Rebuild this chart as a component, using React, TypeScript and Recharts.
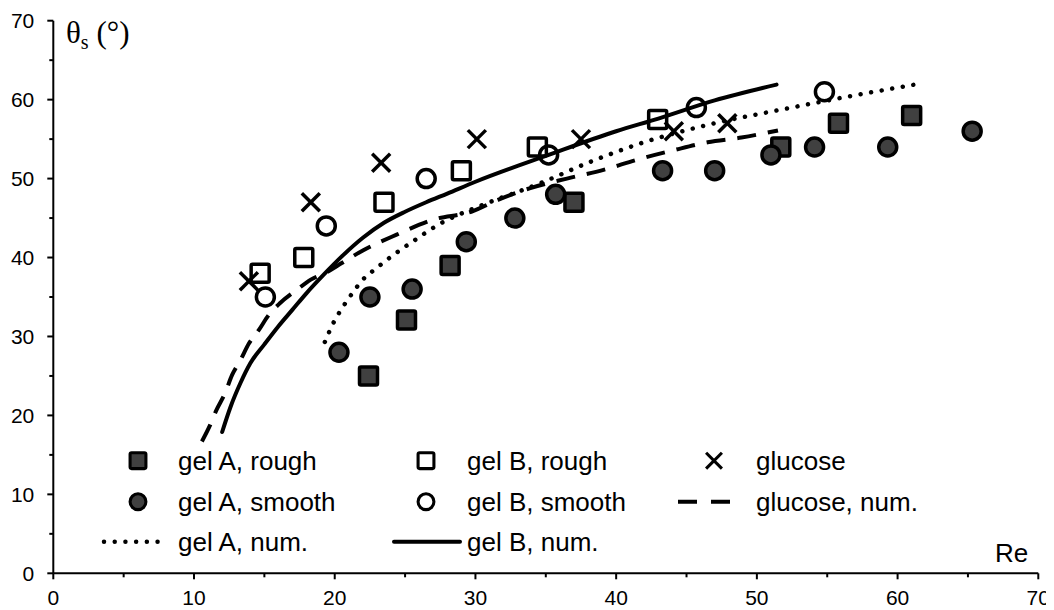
import { ComposedChart, Line, Scatter, XAxis, YAxis } from "recharts";

// contact angle vs Reynolds number
const gelARough = [
  { x: 22.4, y: 25 }, { x: 25.1, y: 32.1 }, { x: 28.2, y: 39 }, { x: 37.0, y: 47 },
  { x: 51.7, y: 54 }, { x: 55.8, y: 57 }, { x: 61.0, y: 58 },
];
const gelASmooth = [
  { x: 20.3, y: 28 }, { x: 22.5, y: 35 }, { x: 25.5, y: 36 }, { x: 29.35, y: 42 },
  { x: 32.8, y: 45 }, { x: 35.7, y: 48 }, { x: 43.3, y: 51 }, { x: 47.0, y: 51 },
  { x: 51.0, y: 53 }, { x: 54.1, y: 54 }, { x: 59.3, y: 54 }, { x: 65.3, y: 56 },
];
const gelBRough = [
  { x: 14.7, y: 38 }, { x: 17.8, y: 40 }, { x: 23.5, y: 47 }, { x: 29.0, y: 51 },
  { x: 34.4, y: 54 }, { x: 42.95, y: 57.5 },
];
const gelBSmooth = [
  { x: 15.07, y: 35 }, { x: 19.4, y: 44 }, { x: 26.5, y: 50 }, { x: 35.2, y: 53 },
  { x: 45.7, y: 59 }, { x: 54.8, y: 61 },
];
const glucose = [
  { x: 13.9, y: 37 }, { x: 18.3, y: 47 }, { x: 23.3, y: 52 }, { x: 30.1, y: 55 },
  { x: 37.5, y: 55 }, { x: 44.1, y: 56 }, { x: 47.9, y: 57 },
];

const gelANum = [
  { x: 19.3, y: 29.3 }, { x: 19.9, y: 31.7 }, { x: 20.6, y: 33.8 }, { x: 21.3, y: 35.6 },
  { x: 22.0, y: 37.2 }, { x: 23.0, y: 38.7 }, { x: 24.0, y: 40.1 }, { x: 25.6, y: 42.1 },
  { x: 27.5, y: 44.3 }, { x: 30, y: 46.3 }, { x: 34.6, y: 49.4 }, { x: 38, y: 52.0 },
  { x: 41.8, y: 54.5 }, { x: 46.5, y: 56.8 }, { x: 52.2, y: 58.9 }, { x: 56.5, y: 60.4 },
  { x: 61.2, y: 61.9 },
];
const gelBNum = [
  { x: 12.0, y: 17.9 }, { x: 12.6, y: 21.1 }, { x: 13.3, y: 24.1 }, { x: 14.0, y: 26.6 },
  { x: 15.0, y: 29.0 }, { x: 16.0, y: 31.3 }, { x: 17.0, y: 33.4 }, { x: 18.0, y: 35.5 },
  { x: 19.2, y: 37.8 }, { x: 20.6, y: 40.3 }, { x: 22.0, y: 42.5 }, { x: 23.5, y: 44.4 },
  { x: 25.0, y: 45.8 }, { x: 26.5, y: 47.0 }, { x: 28, y: 48.1 }, { x: 30, y: 49.6 },
  { x: 35.2, y: 53.0 }, { x: 40, y: 56.0 }, { x: 43, y: 57.6 }, { x: 47, y: 59.9 },
  { x: 51.4, y: 61.9 },
];
const glucoseNum = [
  { x: 10.56, y: 16.7 }, { x: 11.15, y: 18.8 }, { x: 11.6, y: 20.7 }, { x: 12.2, y: 22.8 },
  { x: 12.7, y: 25.1 }, { x: 13.3, y: 27.0 }, { x: 13.9, y: 29.1 }, { x: 14.6, y: 30.8 },
  { x: 15.3, y: 32.7 }, { x: 16.1, y: 34.2 }, { x: 17.3, y: 35.9 }, { x: 18.3, y: 37.2 },
  { x: 19.5, y: 38.2 }, { x: 20.5, y: 39.3 }, { x: 22.0, y: 40.9 }, { x: 24.4, y: 42.9 },
  { x: 27.0, y: 44.8 }, { x: 29.7, y: 45.8 }, { x: 31.6, y: 47.3 }, { x: 33.9, y: 48.8 },
  { x: 36.5, y: 50.0 }, { x: 39.1, y: 51.1 }, { x: 41.5, y: 52.4 }, { x: 44.1, y: 53.6 },
  { x: 46.5, y: 54.6 }, { x: 48.9, y: 55.2 }, { x: 51.5, y: 56.1 },
];

const axisTicks = [0, 5, 10, 15, 20, 25, 30, 35, 40, 45, 50, 55, 60, 65, 70];

const FONT = "'Liberation Sans', Arial, sans-serif";
const DARK = "#404040";

function FilledSquare({ cx, cy, s = 1 }: any) {
  const h = 9 * s;
  return <rect x={cx - h} y={cy - h} width={2 * h} height={2 * h} rx={1.5} fill={DARK} stroke="#000" strokeWidth={3.5 * s} />;
}
function OpenSquare({ cx, cy, s = 1 }: any) {
  const h = 9 * s;
  return <rect x={cx - h} y={cy - h} width={2 * h} height={2 * h} rx={1.5} fill="none" stroke="#000" strokeWidth={3.5 * s} />;
}
function FilledCircle({ cx, cy, s = 1 }: any) {
  return <circle cx={cx} cy={cy} r={9 * s} fill={DARK} stroke="#000" strokeWidth={3.5 * s} />;
}
function OpenCircle({ cx, cy, s = 1 }: any) {
  return <circle cx={cx} cy={cy} r={9 * s} fill="none" stroke="#000" strokeWidth={3.5 * s} />;
}
function Cross({ cx, cy, s = 1 }: any) {
  const h = 9 * s;
  return (
    <g stroke="#000" strokeWidth={3.5 * s}>
      <line x1={cx - h} y1={cy - h} x2={cx + h} y2={cy + h} />
      <line x1={cx - h} y1={cy + h} x2={cx + h} y2={cy - h} />
    </g>
  );
}

function XTick({ x, y, payload }: any) {
  const major = payload.value % 10 === 0;
  return (
    <g>
      <line x1={x} x2={x} y1={y} y2={y + (major ? 6 : 4)} stroke="#000" strokeWidth={2} />
      {major && (
        <text x={x} y={y + 32} textAnchor="middle" fontSize={21} fontFamily={FONT} fill="#000">
          {payload.value}
        </text>
      )}
    </g>
  );
}

function YTick({ x, y, payload }: any) {
  const major = payload.value % 10 === 0;
  return (
    <g>
      <line x1={x} x2={x - (major ? 6 : 4)} y1={y} y2={y} stroke="#000" strokeWidth={2} />
      {major && (
        <text x={x - 19} y={y + 7.5} textAnchor="end" fontSize={21} fontFamily={FONT} fill="#000">
          {payload.value}
        </text>
      )}
    </g>
  );
}

function Overlay() {
  const txt = { fontSize: 26, fontFamily: FONT, fill: "#000" };
  const rows = [452.7, 493.7, 533.7];
  return (
    <svg width={1046} height={602} style={{ position: "absolute", left: 0, top: 0, pointerEvents: "none" }}>
      <text x={58} y={35} fontSize={31} fontFamily="'Liberation Serif', 'Times New Roman', serif" fill="#000">
        θ<tspan fontSize={20} dy={6}>s</tspan>
        <tspan dy={-6}> (°)</tspan>
      </text>
      <text x={987} y={554} {...txt}>Re</text>

      <FilledSquare cx={130} cy={rows[0]} s={0.88} />
      <text x={170} y={rows[0] + 9.3} {...txt}>gel A, rough</text>
      <OpenSquare cx={418} cy={rows[0]} s={0.88} />
      <text x={459} y={rows[0] + 9.3} {...txt}>gel B, rough</text>
      <Cross cx={706} cy={rows[0]} s={0.88} />
      <text x={748} y={rows[0] + 9.3} {...txt}>glucose</text>

      <FilledCircle cx={130} cy={rows[1]} s={0.88} />
      <text x={170} y={rows[1] + 9.3} {...txt}>gel A, smooth</text>
      <OpenCircle cx={418} cy={rows[1]} s={0.88} />
      <text x={459} y={rows[1] + 9.3} {...txt}>gel B, smooth</text>
      <line x1={670} x2={726} y1={rows[1]} y2={rows[1]} stroke="#000" strokeWidth={4} strokeDasharray="19 14" />
      <text x={748} y={rows[1] + 9.3} {...txt}>glucose, num.</text>

      <line x1={96} x2={160} y1={rows[2]} y2={rows[2]} stroke="#000" strokeWidth={4.5} strokeDasharray="0.01 10.7" strokeLinecap="round" />
      <text x={170} y={rows[2] + 9.3} {...txt}>gel A, num.</text>
      <line x1={386} x2={452} y1={rows[2]} y2={rows[2]} stroke="#000" strokeWidth={4} strokeLinecap="round" />
      <text x={459} y={rows[2] + 9.3} {...txt}>gel B, num.</text>
    </svg>
  );
}

export default function App() {
  return (
    <div style={{ position: "relative", width: 1046, height: 602, background: "#fff" }}>
      <ComposedChart width={1046} height={602} margin={{ top: 12.7, right: 15.7, bottom: 0, left: 0 }}>
        <XAxis
          dataKey="x"
          type="number"
          domain={[0, 70]}
          ticks={axisTicks}
          interval={0}
          height={36.7}
          tickSize={0}
          tickMargin={0}
          tickLine={false}
          tick={<XTick />}
          axisLine={{ stroke: "#000", strokeWidth: 2 }}
        />
        <YAxis
          dataKey="y"
          type="number"
          domain={[0, 70]}
          ticks={axisTicks}
          interval={0}
          width={45.3}
          tickSize={0}
          tickMargin={0}
          tickLine={false}
          tick={<YTick />}
          axisLine={{ stroke: "#000", strokeWidth: 2 }}
        />
        <Line data={gelANum} dataKey="y" type="monotone" stroke="#000" strokeWidth={4.5} strokeDasharray="0.01 10.7" strokeLinecap="round" dot={false} isAnimationActive={false} />
        <Line data={glucoseNum} dataKey="y" type="monotone" stroke="#000" strokeWidth={4} strokeDasharray="19 12" dot={false} isAnimationActive={false} />
        <Line data={gelBNum} dataKey="y" type="monotone" stroke="#000" strokeWidth={4} strokeLinecap="round" dot={false} isAnimationActive={false} />
        <Scatter data={gelARough} dataKey="y" shape={(p: any) => <FilledSquare cx={p.cx} cy={p.cy} />} isAnimationActive={false} />
        <Scatter data={gelASmooth} dataKey="y" shape={(p: any) => <FilledCircle cx={p.cx} cy={p.cy} />} isAnimationActive={false} />
        <Scatter data={gelBRough} dataKey="y" shape={(p: any) => <OpenSquare cx={p.cx} cy={p.cy} />} isAnimationActive={false} />
        <Scatter data={gelBSmooth} dataKey="y" shape={(p: any) => <OpenCircle cx={p.cx} cy={p.cy} />} isAnimationActive={false} />
        <Scatter data={glucose} dataKey="y" shape={(p: any) => <Cross cx={p.cx} cy={p.cy} />} isAnimationActive={false} />
      </ComposedChart>
      <Overlay />
    </div>
  );
}
